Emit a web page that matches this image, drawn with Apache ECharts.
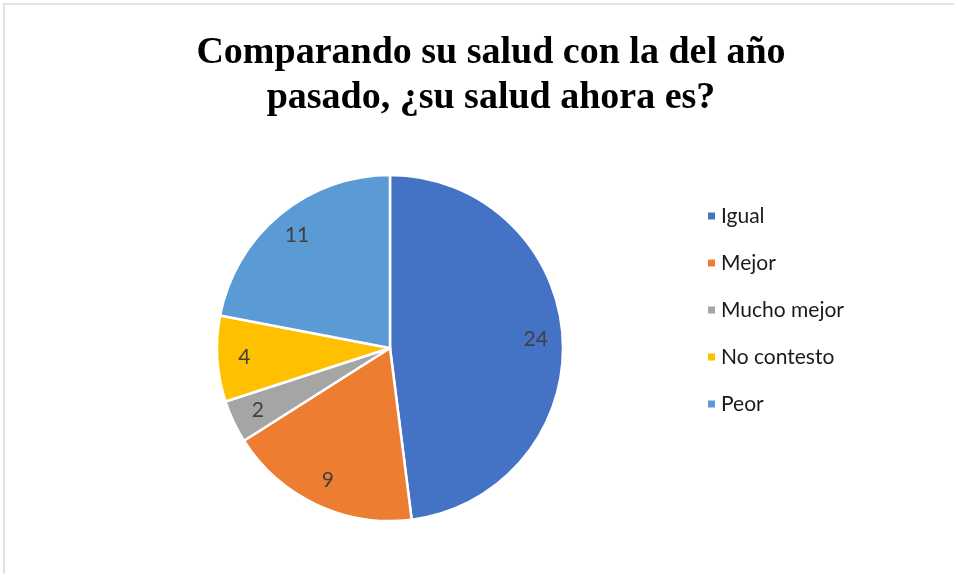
<!DOCTYPE html>
<html>
<head>
<meta charset="utf-8">
<script src="https://cdn.jsdelivr.net/npm/echarts@6/dist/echarts.min.js"></script>
<style>
  html, body { margin: 0; padding: 0; background: #fff; }
  #chart { width: 954px; height: 574px; }
</style>
</head>
<body>
<div id="chart"></div>
<script>
// categories and counts
const categories = ["Igual", "Mejor", "Mucho mejor", "No contesto", "Peor"];
const counts = [24, 9, 2, 4, 11];
const colors = ["#4472C4", "#ED7D31", "#A5A5A5", "#FFC000", "#5B9BD5"];

const pieData = categories.map((name, i) => ({
  name: name,
  value: counts[i],
  itemStyle: { color: colors[i] },
}));

var myChart = echarts.init(document.getElementById("chart"));

var option = {
  animation: false,
  title: {
    text: "Comparando su salud con la del año\npasado, ¿su salud ahora es?",
    left: 486,
    top: 26,
    textAlign: "center",
    textStyle: {
      fontFamily: "Liberation Serif",
      fontWeight: "bold",
      fontSize: 38,
      lineHeight: 45,
      color: "#000",
    },
  },
  legend: {
    orient: "vertical",
    left: 701,
    top: 200,
    icon: "rect",
    itemWidth: 9,
    itemHeight: 9,
    itemGap: 25,
    data: categories,
    textStyle: {
      fontFamily: "Lato",
      fontSize: 21,
      lineHeight: 22,
      color: "#1a1a1a",
    },
  },
  graphic: [
    {
      type: "rect",
      shape: { x: 4, y: 4, width: 1200, height: 1200 },
      style: { fill: "none", stroke: "#d9d9d9", lineWidth: 1.5 },
      silent: true,
    },
  ],
  series: [
    {
      name: "Salud",
      type: "pie",
      center: [390, 348],
      radius: [0, 173],
      startAngle: 90,
      clockwise: true,
      label: { show: false },
      labelLine: { show: false },
      itemStyle: { borderColor: "#fff", borderWidth: 2.5 },
      emphasis: { disabled: true },
      data: pieData,
    },
    {
      // label-only ring so the numbers sit near the outer edge
      name: "Etiquetas",
      type: "pie",
      center: [390, 348],
      radius: [114, 172],
      startAngle: 90,
      clockwise: true,
      silent: true,
      itemStyle: { color: "rgba(0,0,0,0)", borderWidth: 0 },
      label: {
        show: true,
        position: "inside",
        formatter: "{c}",
        fontFamily: "Lato",
        fontSize: 21,
        color: "#404040",
      },
      labelLine: { show: false },
      emphasis: { disabled: true },
      data: categories.map((name, i) => ({ name: name, value: counts[i] })),
    },
  ],
};

myChart.setOption(option);
</script>
</body>
</html>
